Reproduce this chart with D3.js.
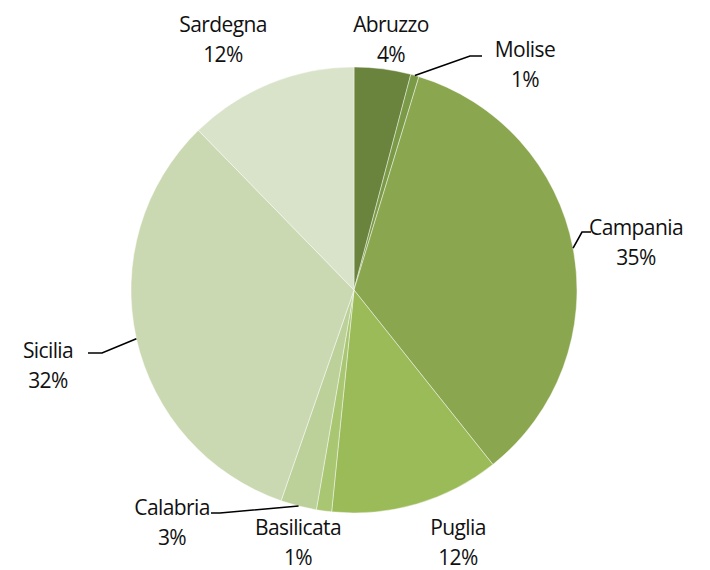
<!DOCTYPE html>
<html>
<head>
<meta charset="utf-8">
<script src="https://cdn.jsdelivr.net/npm/d3@7"></script>
<style>
  body { margin: 0; background: #fff; }
  svg { display: block; }
</style>
</head>
<body>
<div id="viz"></div>
<script>
// Regions, clockwise from 12 o'clock. Values are shares.
const REGIONS = ["Abruzzo", "Molise", "Campania", "Puglia", "Basilicata", "Calabria", "Sicilia", "Sardegna"];
const SHARES = [4.1, 0.6, 34.6, 12.3, 1.1, 2.6, 32.4, 12.3];
const COLORS = ["#6b843d", "#7b9a47", "#8aa74f", "#9bbb59", "#a9c672", "#bcd19a", "#cbd9b3", "#d9e3ca"];

// label anchor (baseline of the first text line) and optional leader per region
const LABELS = [
  { x: 391, y: 32 },
  { x: 525, y: 57, leader: "molise" },
  { x: 636, y: 235, leader: "campania" },
  { x: 458, y: 535 },
  { x: 298, y: 535 },
  { x: 172, y: 515, leader: "calabria" },
  { x: 48, y: 358, leader: "sicilia" },
  { x: 223, y: 32 }
];

const W = 710, H = 570;
const cx = 354, cy = 290, radius = 223;

const svg = d3.select("#viz").append("svg")
  .attr("width", W)
  .attr("height", H);

const data = REGIONS.map((name, i) => ({ name, value: SHARES[i], color: COLORS[i], label: LABELS[i] }));
const total = d3.sum(data, d => d.value);

const pie = d3.pie().sort(null).value(d => d.value);
const arc = d3.arc().innerRadius(0).outerRadius(radius);
const arcs = pie(data);

const g = svg.append("g").attr("transform", `translate(${cx},${cy})`);

g.selectAll("path")
  .data(arcs)
  .join("path")
  .attr("d", arc)
  .attr("fill", d => d.data.color)
  .attr("stroke", "#ffffff")
  .attr("stroke-opacity", 0.55)
  .attr("stroke-width", 0.8);

// point on the rim at the middle of a slice, in page coordinates
function rim(d, r) {
  const a = (d.startAngle + d.endAngle) / 2;
  return [cx + Math.sin(a) * r, cy - Math.cos(a) * r];
}

// leader lines: slice rim -> elbow -> just short of the label
const leaders = {
  molise: d => { const p = rim(d, radius); return [p, [470, 56], [482, 56]]; },
  campania: d => { const p = rim(d, radius); return [p, [582, 232], [591, 232]]; },
  calabria: d => { const p = rim(d, radius); return [p, [220, 513], [211, 513]]; },
  sicilia: d => { const p = rim(d, radius); return [p, [102, 353], [88, 353]]; }
};

const line = d3.line();
svg.append("g")
  .selectAll("path")
  .data(arcs.filter(d => d.data.label.leader))
  .join("path")
  .attr("d", d => line(leaders[d.data.label.leader](d)))
  .attr("fill", "none")
  .attr("stroke", "#000")
  .attr("stroke-width", 1.6);

const text = svg.append("g")
  .attr("font-family", "'Open Sans', 'Noto Sans', sans-serif")
  .attr("font-size", 21)
  .attr("letter-spacing", -0.6)
  .attr("fill", "#111")
  .attr("text-anchor", "middle")
  .selectAll("text")
  .data(data)
  .join("text")
  .attr("x", d => d.label.x)
  .attr("y", d => d.label.y);

text.append("tspan")
  .attr("x", d => d.label.x)
  .text(d => d.name);

text.append("tspan")
  .attr("x", d => d.label.x)
  .attr("dy", 30)
  .text(d => `${Math.round(d.value / total * 100)}%`);
</script>
</body>
</html>
